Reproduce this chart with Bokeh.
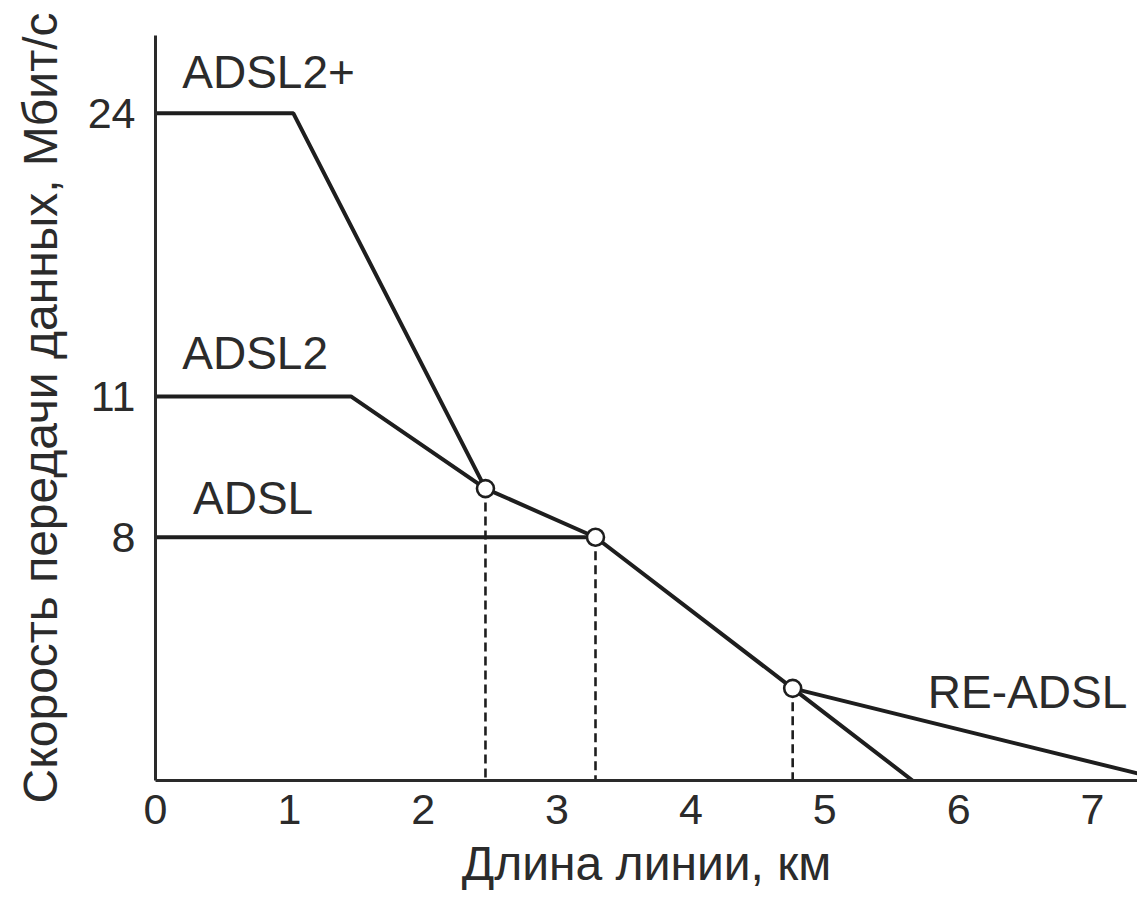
from bokeh.plotting import figure
from bokeh.models import Range1d, FixedTicker, ColumnDataSource
from bokeh.core.properties import value
from bokeh.embed import file_html
from bokeh.resources import INLINE

# Distance along the line, km
adsl2plus_km = [0.0, 1.03, 2.465]
adsl2_km = [0.0, 1.46, 2.465, 3.287, 4.76, 5.655]
adsl_km = [0.0, 3.287]
readsl_km = [4.76, 7.55]
cross_km = [2.465, 3.287, 4.76]

# Rate on the chart's schematic (non-linear) vertical scale
adsl2plus_rate = [21.94, 21.94, 9.6]
adsl2_rate = [12.63, 12.63, 9.6, 8.0, 3.03, 0.0]
adsl_rate = [8.0, 8.0]
readsl_rate = [3.03, 0.0]
cross_rate = [9.6, 8.0, 3.03]

# Axis ticks
x_ticks = [0, 1, 2, 3, 4, 5, 6, 7]
y_tick_pos = [21.94, 12.63, 8.0]
y_tick_labels = ["24", "11", "8"]

FONT = "Liberation Sans"
INK = "#1e1e1e"
TXT = "#2b2b2b"

p = figure(width=1137, height=908, output_backend="svg", toolbar_location=None,
           x_range=Range1d(0, 7.336), y_range=Range1d(0, 24.5),
           min_border_left=155, min_border_right=0, min_border_top=35,
           min_border_bottom=128)
p.outline_line_color = None
p.grid.visible = False
p.background_fill_color = "white"
p.border_fill_color = "white"

for ax in (p.xaxis[0], p.yaxis[0]):
    ax.axis_line_width = 3
    ax.axis_line_color = "#2a2a2a"
    ax.major_tick_line_color = None
    ax.minor_tick_line_color = None
    ax.major_tick_out = 0
    ax.major_tick_in = 0
    ax.major_label_text_font = FONT
    ax.major_label_text_font_size = "43px"
    ax.major_label_text_color = TXT
    ax.axis_label_text_font = FONT
    ax.axis_label_text_font_size = "48px"
    ax.axis_label_text_font_style = "normal"
    ax.axis_label_text_color = TXT

p.xaxis.ticker = FixedTicker(ticks=x_ticks)
p.xaxis.major_label_standoff = 14
p.xaxis.axis_label = "Длина линии, км"
p.xaxis.axis_label_standoff = 10

p.yaxis.ticker = FixedTicker(ticks=y_tick_pos)
p.yaxis.major_label_overrides = {t: l for t, l in zip(y_tick_pos, y_tick_labels)}
p.yaxis.major_label_standoff = 20
p.yaxis.axis_label = "Скорость передачи данных, Мбит/с"
p.yaxis.axis_label_standoff = 18

# dashed drop lines from crossing points
p.segment(x0=cross_km, y0=cross_rate, x1=cross_km, y1=[0] * len(cross_km),
          line_color=INK, line_width=2.6, line_dash="9 5")

lw = 4
p.line(adsl2plus_km, adsl2plus_rate, line_color=INK, line_width=lw)
p.line(adsl2_km, adsl2_rate, line_color=INK, line_width=lw)
p.line(adsl_km, adsl_rate, line_color=INK, line_width=lw)
p.line(readsl_km, readsl_rate, line_color=INK, line_width=lw)

p.scatter(cross_km, cross_rate, size=17, marker="circle", fill_color="white",
          line_color=INK, line_width=2.6)

labels = ColumnDataSource(dict(
    x=[0.2, 0.2, 0.28, 5.77],
    y=[22.76, 13.52, 8.78, 2.4],
    t=["ADSL2+", "ADSL2", "ADSL", "RE-ADSL"],
))
p.text(x="x", y="y", text="t", source=labels, text_font=value(FONT),
       text_font_size="46px", text_color=TXT, text_baseline="alphabetic",
       text_align="left", y_offset=-16)

open("out.html", "w").write(file_html(p, INLINE))
